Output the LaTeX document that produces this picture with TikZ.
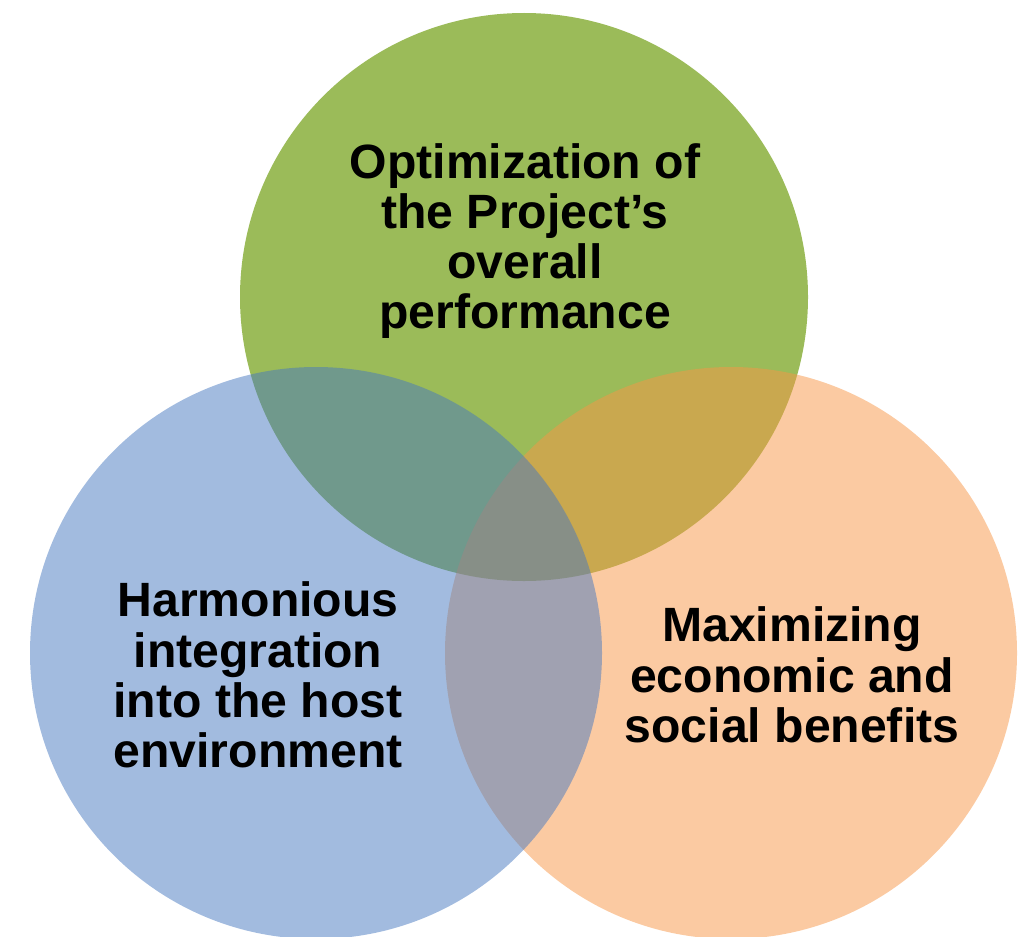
\documentclass[tikz,border=0pt]{standalone}
\usepackage{fontspec}
\setmainfont{Liberation Sans}
\usepackage{xcolor}

\definecolor{perfgreen}{RGB}{155,187,89}
\definecolor{benefitorange}{RGB}{247,150,70}
\definecolor{hostblue}{RGB}{70,120,192}

\begin{document}
\begin{tikzpicture}[x=0.02cm,y=-0.02cm,
	goal/.style={font=\bfseries\fontsize{27.4}{28.6}\selectfont, align=center, text=black}]

	% page
	\useasboundingbox (0,0) rectangle (1027,936);

	% Circles
	\fill[perfgreen] (524,297) circle (284);
	\fill[benefitorange, fill opacity=.5] (731,653) circle (286);
	\fill[hostblue, fill opacity=.5] (316,653) circle (286);

	% Labels
	\node[goal] (perf) at (525,241) {Optimization of\\the Project's\\overall\\performance};
	\node[goal] (host) at (258,675) {Harmonious\\integration\\into the host\\environment};
	\node[goal] (benefit) at (792,675) {Maximizing\\economic and\\social benefits};

\end{tikzpicture}
\end{document}
